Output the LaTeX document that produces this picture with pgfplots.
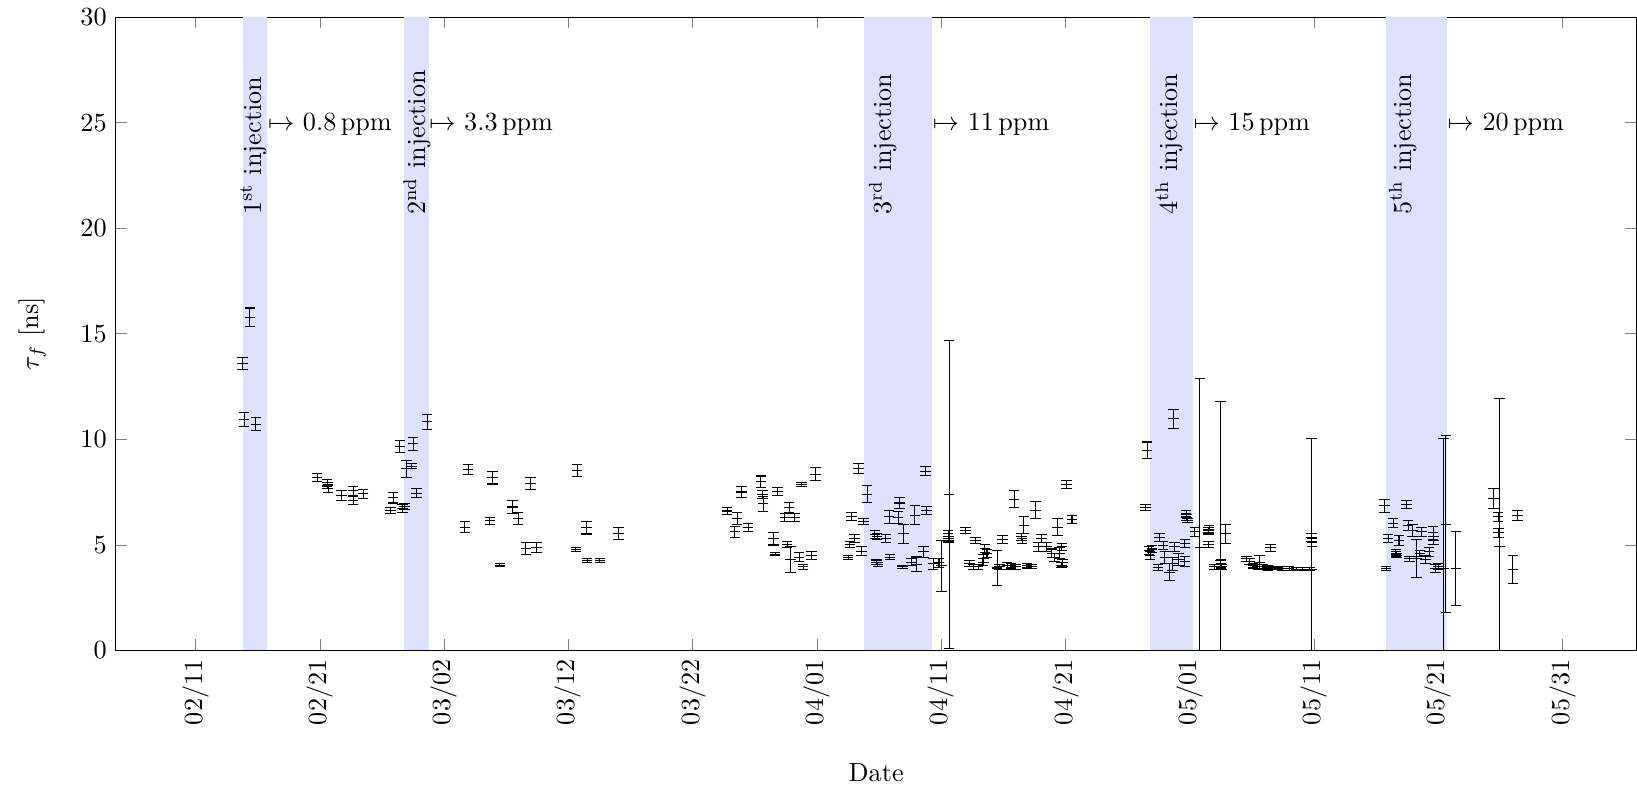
\documentclass[border=0pt]{standalone}
\usepackage{pgfplots}
\usepackage{pgfplotstable}
\pgfplotsset{compat=1.18}
\pgfplotstableread{
x y e
3.78 13.58 0.28
4.37 15.79 0.43
3.91 10.93 0.32
4.85 10.71 0.30
9.79 8.18 0.20
10.59 7.93 0.18
10.67 7.66 0.2
10.62 7.8 0.15
11.74 7.34 0.25
12.68 7.55 0.2
12.68 7.10 0.2
13.49 7.42 0.22
15.9 7.23 0.25
15.69 6.63 0.15
16.65 6.71 0.2
16.8 6.8 0.15
16.44 9.66 0.28
17.51 9.79 0.3
16.97 8.6 0.41
17.38 8.73 0.1
17.78 7.45 0.2
18.63 10.82 0.35
21.93 8.56 0.25
21.67 5.84 0.25
23.89 8.18 0.3
23.68 6.13 0.15
24.48 4.03 0.08
25.5 6.79 0.3
25.96 6.24 0.28
26.95 7.9 0.28
26.57 4.82 0.3
27.43 4.87 0.25
30.7 8.53 0.28
30.6 4.77 0.1
31.45 5.81 0.3
31.5 4.26 0.1
32.53 4.26 0.1
34.05 5.53 0.3
42.77 6.6 0.15
43.57 6.24 0.3
43.39 5.61 0.25
43.92 7.5 0.28
44.46 5.81 0.2
45.48 7.98 0.28
45.61 7.39 0.2
45.67 6.95 0.36
46.82 7.53 0.2
46.52 5.29 0.3
46.63 4.55 0.08
47.76 6.76 0.25
47.41 6.29 0.2
48.2 6.29 0.2
47.6 5.02 0.15
47.89 4.3 0.61
48.56 4.42 0.2
48.88 3.95 0.1
48.75 7.86 0.1
49.9 8.34 0.3
49.56 4.5 0.2
53.36 8.61 0.25
54.03 7.39 0.4
52.77 6.35 0.2
53.76 6.11 0.15
53.04 5.29 0.2
52.64 5.02 0.15
52.5 4.39 0.1
53.58 4.7 0.2
54.65 5.49 0.2
54.85 5.4 0.15
55.54 5.29 0.2
54.79 4.18 0.1
54.9 4.07 0.1
55.86 4.42 0.1
55.8 6.32 0.3
56.53 6.29 0.3
56.66 6.98 0.25
56.98 5.53 0.45
56.88 3.95 0.08
57.87 6.39 0.45
58.73 8.49 0.2
58.81 6.63 0.2
58.59 4.66 0.25
58.0 4.07 0.35
57.6 4.18 0.15
59.34 4.1 0.25
59.82 4.14 0.2
60.02 4.0 1.22
60.63 7.38 7.3
60.55 5.53 0.15
60.6 5.29 0.12
60.58 5.2 0.1
61.97 5.68 0.15
62.77 5.21 0.15
62.29 4.1 0.15
62.6 3.95 0.1
62.96 3.95 0.1
63.5 4.82 0.2
63.68 4.58 0.2
63.4 4.34 0.2
63.36 4.18 0.15
64.49 3.9 0.85
64.7 3.95 0.1
64.92 5.24 0.2
65.3 4.0 0.15
65.6 4.0 0.1
65.86 7.15 0.4
66.0 3.95 0.12
66.64 5.92 0.4
66.45 5.37 0.15
66.5 5.2 0.12
66.9 4.0 0.1
67.3 3.97 0.1
67.58 6.63 0.4
68.06 5.29 0.2
67.79 4.9 0.2
68.5 4.9 0.2
68.9 4.6 0.2
69.1 4.4 0.2
69.5 4.6 0.25
69.35 5.84 0.4
69.67 4.03 0.12
69.7 4.9 0.15
69.75 4.14 0.15
70.07 7.86 0.2
70.52 6.2 0.2
76.56 9.47 0.4
78.7 10.97 0.45
76.45 6.76 0.15
76.7 4.74 0.2
76.8 4.5 0.2
76.95 4.8 0.15
77.58 5.34 0.2
77.45 3.92 0.15
77.85 4.97 0.2
78.38 3.7 0.4
78.78 4.9 0.2
78.0 4.4 0.3
78.6 4.1 0.3
79.1 4.3 0.3
79.6 4.2 0.25
79.6 5.05 0.2
79.7 6.47 0.15
79.75 6.3 0.15
79.8 6.16 0.1
80.4 5.61 0.2
80.8 4.85 8.05
81.52 5.68 0.15
81.55 5.8 0.1
81.5 5.6 0.1
81.52 5.02 0.15
82.46 4.26 7.55
82.5 4.1 0.2
82.55 3.95 0.1
82.86 5.53 0.45
82.0 3.95 0.1
84.55 4.34 0.12
84.8 4.2 0.15
85.07 4.0 0.1
85.47 3.95 0.1
85.6 4.18 0.3
85.87 3.95 0.1
86.27 3.9 0.1
86.48 4.85 0.15
86.67 3.9 0.08
87.07 3.9 0.08
87.47 3.88 0.08
88.0 3.87 0.08
88.56 3.85 0.08
89.09 3.84 0.08
89.63 3.84 0.08
89.78 3.85 6.18
89.8 5.35 0.2
89.82 5.1 0.2
95.68 6.84 0.3
95.8 3.87 0.08
95.95 5.29 0.2
96.35 6.03 0.2
96.6 4.58 0.12
96.62 4.5 0.1
96.58 4.66 0.1
96.83 5.21 0.25
97.43 6.9 0.2
97.56 5.92 0.25
97.69 4.34 0.12
97.9 5.68 0.3
98.23 4.35 0.9
98.5 4.6 0.15
98.63 5.61 0.2
98.98 4.3 0.2
99.25 4.66 0.2
99.57 5.56 0.3
99.6 5.21 0.2
99.76 3.87 0.2
100.0 3.97 0.15
100.43 3.87 6.16
100.6 5.98 4.21
101.4 3.87 1.74
104.45 7.18 0.47
104.8 6.32 0.2
104.85 5.56 0.2
104.93 4.9 7.02
106.36 6.39 0.25
106.0 3.82 0.65
}\datatable
\begin{document}
\begin{tikzpicture}
\begin{axis}[
  scale only axis,
  width=580.5pt, height=241.7pt,
  xmin=-6.41, xmax=115.94,
  ymin=0, ymax=30,
  xtick={0,10,...,110},
  xticklabels={02/11,02/21,03/02,03/12,03/22,04/01,04/11,04/21,05/01,05/11,05/21,05/31},
  x tick label style={rotate=90, anchor=east},
  ytick={0,5,...,30},
  xlabel={Date},
  ylabel={$\tau_f$ [ns]},
  xlabel style={yshift=-10pt, inner ysep=1.3pt},
  ylabel style={inner ysep=7.2pt},
  ylabel shift=2.4pt,
]
\addplot[draw=none, fill=blue!12, forget plot] coordinates {(3.78,30) (5.79,30)} \closedcycle;
\addplot[draw=none, fill=blue!12, forget plot] coordinates {(16.8,30) (18.77,30)} \closedcycle;
\addplot[draw=none, fill=blue!12, forget plot] coordinates {(53.77,30) (59.29,30)} \closedcycle;
\addplot[draw=none, fill=blue!12, forget plot] coordinates {(76.8,30) (80.26,30)} \closedcycle;
\addplot[draw=none, fill=blue!12, forget plot] coordinates {(95.76,30) (100.7,30)} \closedcycle;
\addplot[black, only marks, mark=-,
  error bars/.cd, y dir=both, y explicit]
  table[x=x, y=y, y error=e] {\datatable};
\node[rotate=90, anchor=west] at (axis cs:4.65,20.2) {1\textsuperscript{st} injection};
\node[rotate=90, anchor=west] at (axis cs:17.84,20.2) {2\textsuperscript{nd} injection};
\node[rotate=90, anchor=west] at (axis cs:55.29,20.2) {3\textsuperscript{rd} injection};
\node[rotate=90, anchor=west] at (axis cs:78.34,20.2) {4\textsuperscript{th} injection};
\node[rotate=90, anchor=west] at (axis cs:97.13,20.2) {5\textsuperscript{th} injection};
\node[anchor=west, inner sep=0pt] at (axis cs:5.79,24.9) {$\mapsto$ 0.8\,ppm};
\node[anchor=west, inner sep=0pt] at (axis cs:18.77,24.9) {$\mapsto$ 3.3\,ppm};
\node[anchor=west, inner sep=0pt] at (axis cs:59.29,24.9) {$\mapsto$ 11\,ppm};
\node[anchor=west, inner sep=0pt] at (axis cs:80.26,24.9) {$\mapsto$ 15\,ppm};
\node[anchor=west, inner sep=0pt] at (axis cs:100.7,24.9) {$\mapsto$ 20\,ppm};
\end{axis}
\end{tikzpicture}
\end{document}
